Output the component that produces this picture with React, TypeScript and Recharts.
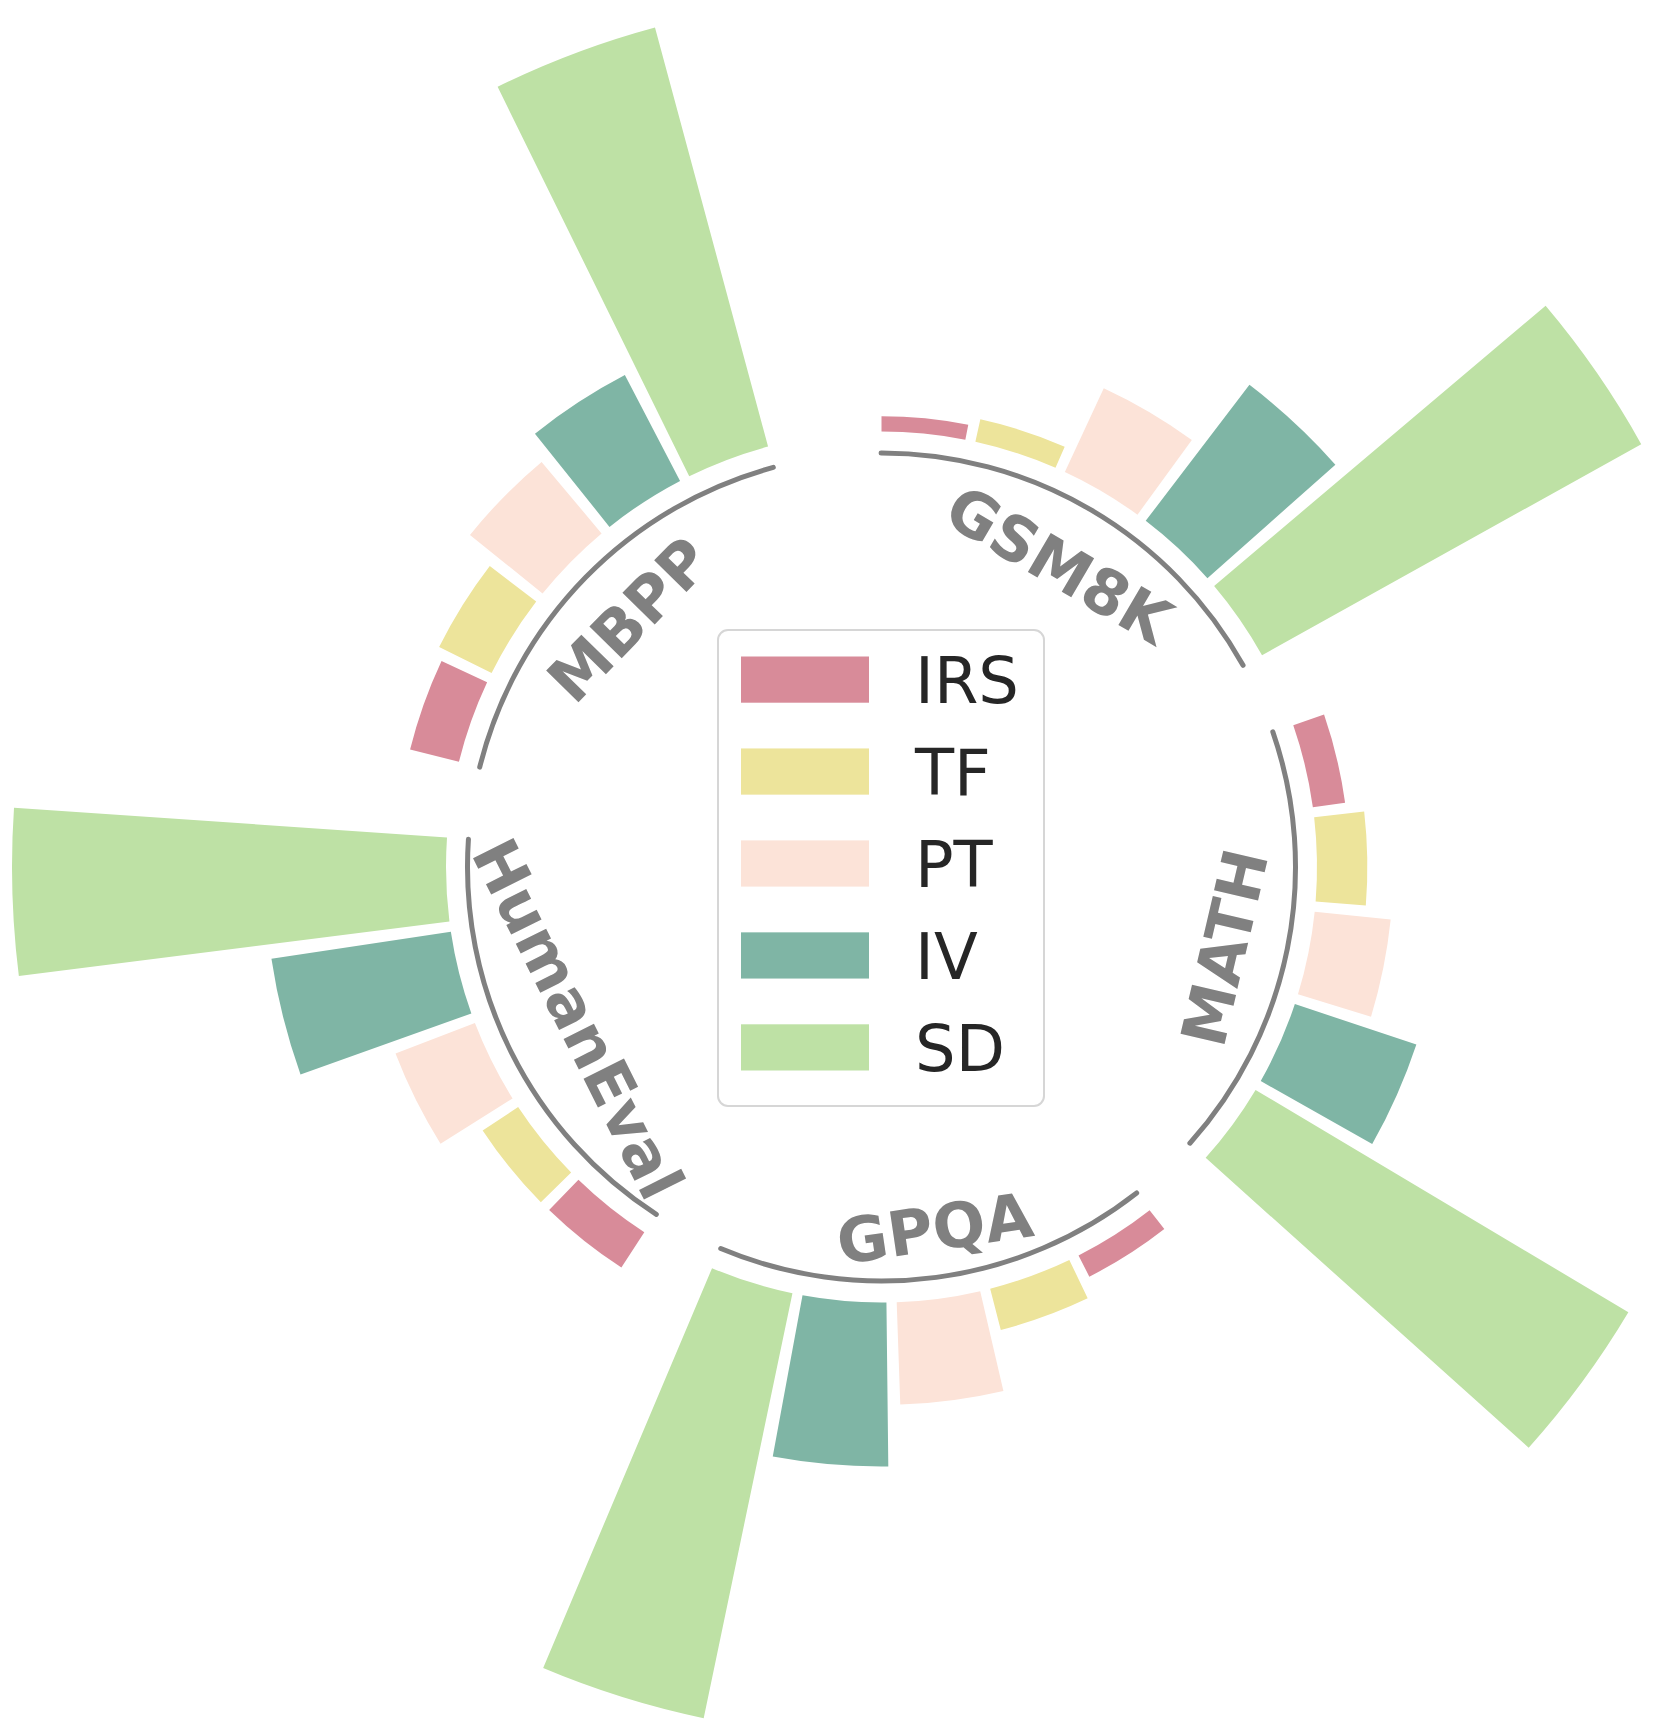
import React from 'react';
import { RadialBarChart, RadialBar, PolarAngleAxis, PolarRadiusAxis, Legend } from 'recharts';

// benchmark groups, clockwise from the top
const GROUPS = ['GSM8K', 'MATH', 'GPQA', 'HumanEval', 'MBPP'];
const METHODS = ['IRS', 'TF', 'PT', 'IV', 'SD'];
const COLORS: Record<string, string> = {
  IRS: '#D88B99',
  TF: '#EDE49B',
  PT: '#FCE3D8',
  IV: '#7FB5A5',
  SD: '#BEE1A5',
};

// values per group (same order as GROUPS), SD = 100
const IRS = [3.5, 7.5, 5.5, 9.7, 11.6];
const TF = [5.3, 11.6, 9.8, 9.8, 13.5];
const PT = [21.3, 17.6, 23.6, 19.6, 21.5];
const IV = [39.4, 29.5, 37.8, 41.8, 27.5];
const SD = [100, 100, 100, 100, 100];

const data = GROUPS.map((name, i) => ({
  name,
  IRS: IRS[i],
  TF: TF[i],
  PT: PT[i],
  IV: IV[i],
  SD: SD[i],
}));

// layout
const W = 1645;
const H = 1718;
const CX = 873.5;
const CY = 859;
const INNER = 435.5;
const OUTER = 869.5;
const SPAN = 355;
const BAND = SPAN / GROUPS.length;
// recharts puts the bars one band after the scale position, so start one band earlier
const START = 95.1 - BAND;
const BAR = 11.1;
const GAP = 1.35;
const GROUP_HALF = (METHODS.length * BAR + (METHODS.length - 1) * GAP) / 2;
const ARC_R = 414;
// label distance from centre and small angle nudge
const LABEL_R: Record<string, number> = { GSM8K: 351, MATH: 352, GPQA: 365, HumanEval: 339, MBPP: 354 };
const LABEL_NUDGE: Record<string, number> = { GSM8K: 0, MATH: 1.8, GPQA: -0.8, HumanEval: 0, MBPP: 0 };

const pt = (cx: number, cy: number, r: number, deg: number) => {
  const a = (deg * Math.PI) / 180;
  return [cx + r * Math.sin(a), cy - r * Math.cos(a)];
};

// group arc + straight label, placed from the angle axis tick
const GroupTick = (props: any) => {
  const { payload } = props;
  const cx = props.cx ?? CX;
  const cy = props.cy ?? CY;
  const bandStart = payload.coordinate - (payload.offset || 0) + BAND;
  let c = 90 - (bandStart + BAND / 2); // compass degrees
  c = ((c % 360) + 360) % 360;
  const [x1, y1] = pt(cx, cy, ARC_R, c - GROUP_HALF);
  const [x2, y2] = pt(cx, cy, ARC_R, c + GROUP_HALF);
  const lc = c + (LABEL_NUDGE[payload.value] ?? 0);
  const flipped = lc > 90 && lc < 270;
  const rot = flipped ? lc - 180 : lc;
  const [tx, ty] = pt(cx, cy, LABEL_R[payload.value] ?? 352, lc);
  return (
    <g>
      <path
        d={`M${x1},${y1} A${ARC_R},${ARC_R} 0 0 1 ${x2},${y2}`}
        fill="none"
        stroke="#808080"
        strokeWidth={5}
        strokeLinecap="round"
      />
      <text
        x={tx}
        y={ty}
        dy="0.36em"
        transform={`rotate(${rot}, ${tx}, ${ty})`}
        textAnchor="middle"
        fontFamily="DejaVu Sans"
        fontWeight="bold"
        fontSize={62}
        fill="#808080"
      >
        {payload.value}
      </text>
    </g>
  );
};

const renderLegend = () => (
  <svg width={328} height={478}>
    <rect x={1} y={1} width={326} height={476} rx={10} fill="#fff" stroke="#d6d6d6" strokeWidth={2} />
    {METHODS.map((m, i) => {
      const y = 27.5 + 91.95 * i;
      return (
        <g key={m}>
          <rect x={24} y={y} width={128} height={46.2} fill={COLORS[m]} />
          <text x={198} y={y + 23.1 + 23.3} fontSize={64} fontFamily="DejaVu Sans" fill="#262626">
            {m}
          </text>
        </g>
      );
    })}
  </svg>
);

export default function App() {
  // drawn counter-clockwise inside each band, so SD goes first
  const order = [...METHODS].reverse();
  return (
    <div style={{ width: W, height: H, background: '#fff' }}>
      <RadialBarChart
        width={W}
        height={H}
        cx={CX}
        cy={CY}
        innerRadius={INNER}
        outerRadius={OUTER}
        startAngle={START}
        endAngle={START - SPAN}
        data={data}
        layout="centric"
        barSize={BAR}
        barGap={GAP}
        margin={{ top: 0, right: 0, bottom: 0, left: 0 }}
      >
        <PolarAngleAxis type="category" dataKey="name" axisLine={false} tickLine={false} tick={GroupTick} />
        <PolarRadiusAxis type="number" domain={[0, 100]} tick={false} axisLine={false} />
        {order.map((m) => (
          <RadialBar key={m} dataKey={m} fill={COLORS[m]} barSize={BAR} isAnimationActive={false} />
        ))}
        <Legend
          layout="vertical"
          align="center"
          verticalAlign="middle"
          content={renderLegend}
          wrapperStyle={{ left: 709, top: 620.6, width: 328, height: 478 }}
        />
      </RadialBarChart>
    </div>
  );
}
